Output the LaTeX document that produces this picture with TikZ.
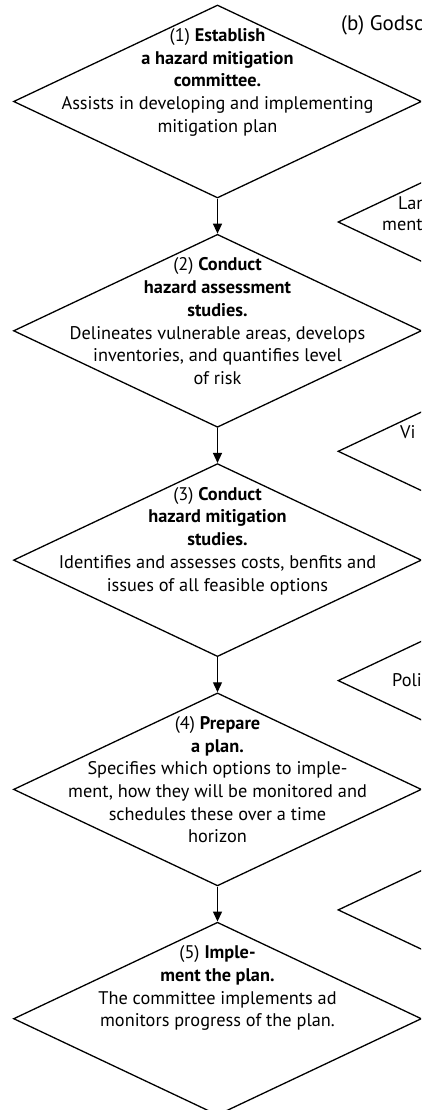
\documentclass[tikz,border=0pt]{standalone}
\usepackage{fontspec}
\setmainfont{PT Sans}
\usetikzlibrary{arrows.meta,positioning,calc,shapes.geometric}

\begin{document}
\begin{tikzpicture}[x=1pt, y=-1pt,
    stepshape/.style={draw, diamond, line width=1.3pt, minimum width=408pt,
      minimum height=193pt, inner sep=0pt},
    steptext/.style={align=center, inner sep=0pt,
      font=\fontsize{18.3}{22.7}\selectfont},
    sidetext/.style={anchor=west, inner sep=0pt,
      font=\fontsize{18.3}{22.7}\selectfont},
    flowarrow/.style={line width=1.3pt, -{Triangle[length=10pt, width=9pt]}}]
    \useasboundingbox (0,0) rectangle (421,1110);
    \clip (0,0) rectangle (421,1110);
    % Panel title (cut at the right edge)
    \node[anchor=west, inner sep=0pt, font=\fontsize{21}{25}\selectfont] (title) at (341,25) {(b) Godsc};
    % Left column: the five steps
    \node[stepshape] (d1) at (217.5,101.5) {};
    \node[stepshape, below=35pt of d1] (d2) {};
    \node[stepshape, below=35pt of d2] (d3) {};
    \node[stepshape, below=35pt of d3] (d4) {};
    \node[stepshape, below=35pt of d4] (d5) {};
    \node[steptext, below=24pt of d1.north] (t1) {(1) \textbf{Establish}\\ \textbf{a hazard mitigation}\\ \textbf{committee.}\\
      Assists in developing and implementing\\ mitigation plan};
    \node[steptext, below=24pt of d2.north] (t2) {(2) \textbf{Conduct}\\ \textbf{hazard assessment}\\ \textbf{studies.}\\
      Delineates vulnerable areas, develops\\ inventories, and quantifies level\\ of risk};
    \node[steptext, below=24pt of d3.north] (t3) {(3) \textbf{Conduct}\\ \textbf{hazard mitigation}\\ \textbf{studies.}\\
      Identifies and assesses costs, benfits and\\ issues of all feasible options};
    \node[steptext, below=24pt of d4.north] (t4) {(4) \textbf{Prepare}\\ \textbf{a plan.}\\
      Specifies which options to imple-\\ ment, how they will be monitored and\\ schedules these over a time\\ horizon};
    \node[steptext, below=24pt of d5.north] (t5) {(5) \textbf{Imple-}\\ \textbf{ment the plan.}\\
      The committee implements ad\\ monitors progress of the plan.};
    \draw[flowarrow] (d1.south) -- (d2.north);
    \draw[flowarrow] (d2.south) -- (d3.north);
    \draw[flowarrow] (d3.south) -- (d4.north);
    \draw[flowarrow] (d4.south) -- (d5.north);
    % Right column: neighbouring panel, mostly outside the frame
    \node[stepshape] (r1) at (542,222) {};
    \node[stepshape, below=35pt of r1] (r2) {};
    \node[stepshape, below=35pt of r2] (r3) {};
    \node[stepshape, below=35pt of r3] (r4) {};
    \node[sidetext] (s1) at (398,203) {Lan};
    \node[sidetext] (s2) at (382,225) {ment};
    \node[sidetext] (s3) at (400,432) {Vi};
    \node[sidetext] (s4) at (392,680) {Poli};
\end{tikzpicture}
\end{document}
